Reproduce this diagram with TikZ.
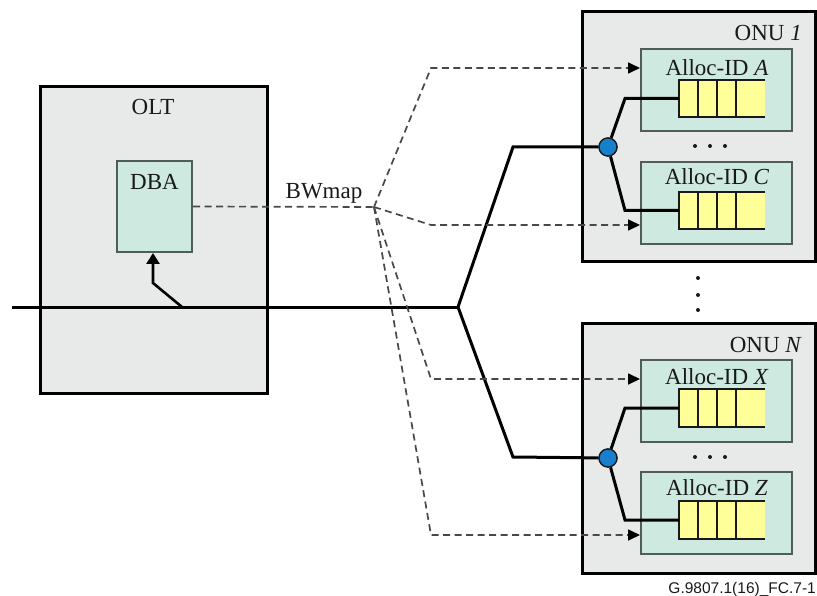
\documentclass[tikz,border=0pt]{standalone}
\usepackage{fontspec}
\setmainfont{Liberation Serif}
\newfontfamily\footfont{Liberation Sans}
\usetikzlibrary{arrows.meta,calc}

\definecolor{boxgray}{RGB}{232,233,233}
\definecolor{mint}{RGB}{205,233,224}
\definecolor{allocedge}{RGB}{80,92,88}
\definecolor{qyellow}{RGB}{255,255,153}
\definecolor{splitblue}{RGB}{22,128,204}
\definecolor{dashgray}{RGB}{72,72,72}
\definecolor{inkdark}{RGB}{25,25,25}

\tikzset{
  unitbox/.style={draw=black, line width=3pt, fill=boxgray, rectangle, inner sep=0pt},
  allocbox/.style={draw=allocedge, line width=2pt, fill=mint, rectangle, inner sep=0pt,
    minimum width=151pt, minimum height=82pt},
  dbabox/.style={draw=allocedge, line width=2pt, fill=mint, rectangle, inner sep=0pt,
    minimum width=75pt, minimum height=91pt},
  queuebox/.style={fill=qyellow, rectangle, inner sep=0pt, minimum width=86pt, minimum height=37pt},
  qline/.style={draw=inkdark, line width=1.8pt},
  fibre/.style={draw=black, line width=3pt, line join=miter},
  bwmap/.style={draw=dashgray, line width=1.7pt, dash pattern=on 7pt off 4.5pt},
  bwarrow/.style={bwmap, -{Triangle[length=12pt,width=11pt,color=black]}},
  splitter/.style={circle, draw=inkdark, line width=1.3pt, fill=splitblue, minimum size=18pt, inner sep=0pt},
  label/.style={font=\fontsize{23}{26}\selectfont, text=inkdark, inner sep=0pt},
  dotmark/.style={circle, fill=inkdark, minimum size=4pt, inner sep=0pt}
}

\begin{document}
\begin{tikzpicture}[x=1pt,y=-1pt]
\useasboundingbox (0,0) rectangle (817,596);

% OLT with its DBA function
\node[unitbox, minimum width=227pt, minimum height=306pt] (olt) at (153.5,240) {};
\node[label] (oltlabel) at (153,107) {OLT};
\node[dbabox] (dba) at (154.5,206.5) {};
\node[label] (dbalabel) at (154.5,182) {DBA};

% ONU boxes
\node[unitbox, minimum width=233pt, minimum height=250pt] (onu1) at (698.5,137) {};
\node[unitbox, minimum width=233pt, minimum height=250pt] (onuN) at (698.5,448) {};
\node[label, anchor=east] (onu1label) at (802,33) {ONU \textit{1}};
\node[label, anchor=east] (onuNlabel) at (802,345) {ONU \textit{N}};

% Alloc-ID containers
\node[allocbox] (allocA) at (716.5,90.5) {};
\node[allocbox] (allocC) at (716.5,203) {};
\node[allocbox] (allocX) at (716.5,401) {};
\node[allocbox] (allocZ) at (716.5,513) {};
\node[label] (labA) at (717,68) {Alloc-ID \textit{A}};
\node[label] (labC) at (717,177) {Alloc-ID \textit{C}};
\node[label] (labX) at (717,377) {Alloc-ID \textit{X}};
\node[label] (labZ) at (717,488) {Alloc-ID \textit{Z}};

% Queues (open at the right-hand end)
\node[queuebox] (qA) at (722,98.5) {};
\node[queuebox] (qC) at (722,210.5) {};
\node[queuebox] (qX) at (722,408) {};
\node[queuebox] (qZ) at (722,520) {};
\foreach \q in {qA,qC,qX,qZ}{
  \draw[qline] (\q.north east) -- (\q.north west) -- (\q.south west) -- (\q.south east);
  \foreach \f in {0.221,0.442,0.663}{
    \draw[qline] ($(\q.north west)!\f!(\q.north east)$) -- ($(\q.south west)!\f!(\q.south east)$);
  }
}

% ellipsis marks
\foreach \xx [count=\i] in {695,710,725}{
  \node[dotmark] (dotsup\i) at (\xx,146) {};
  \node[dotmark] (dotsdn\i) at (\xx,457) {};
}
\foreach \yy [count=\i] in {278,295,310}{
  \node[dotmark] (vdot\i) at (698,\yy) {};
}

% Optical distribution network
\coordinate (feed) at (12,307);
\coordinate (odn) at (458,307);
\coordinate (tap) at (182,307);
\node[splitter] (split1) at (608,147) {};
\node[splitter] (splitN) at (608,458) {};
\draw[fibre] (feed) -- (odn);
\draw[fibre] (odn) -- (513,147) -- (split1);
\draw[fibre] (odn) -- (513,457) -- (splitN);
\draw[fibre] (split1) -- (625,98.5) -- (qA.west);
\draw[fibre] (split1) -- (625,210.5) -- (qC.west);
\draw[fibre] (splitN) -- (625,408) -- (qX.west);
\draw[fibre] (splitN) -- (625,520) -- (qZ.west);
\node[splitter] at (split1) {};
\node[splitter] at (splitN) {};

% upstream report into the DBA
\draw[fibre, line width=2.6pt, -{Triangle[length=11pt,width=13pt]}] (tap) -- (153,283) -- (dba.south -| 153,0);

% BWmap distribution
\coordinate (bw) at (374,207);
\node[label] (bwlabel) at (324,193) {BWmap};
\draw[bwmap] (dba.east) -- (bw);
\draw[bwarrow] (bw) -- (431,68) -- (allocA.west |- 0,68);
\draw[bwarrow] (bw) -- (431,225) -- (allocC.west |- 0,225);
\draw[bwarrow] (bw) -- (431,379) -- (allocX.west |- 0,379);
\draw[bwarrow] (bw) -- (431,535) -- (allocZ.west |- 0,535);

% figure tag
\node[font=\footfont\fontsize{15.5}{18}\selectfont, text=inkdark, anchor=east, inner sep=0pt] (tag) at (816,589) {G.9807.1(16)\_FC.7-1};
\end{tikzpicture}
\end{document}
